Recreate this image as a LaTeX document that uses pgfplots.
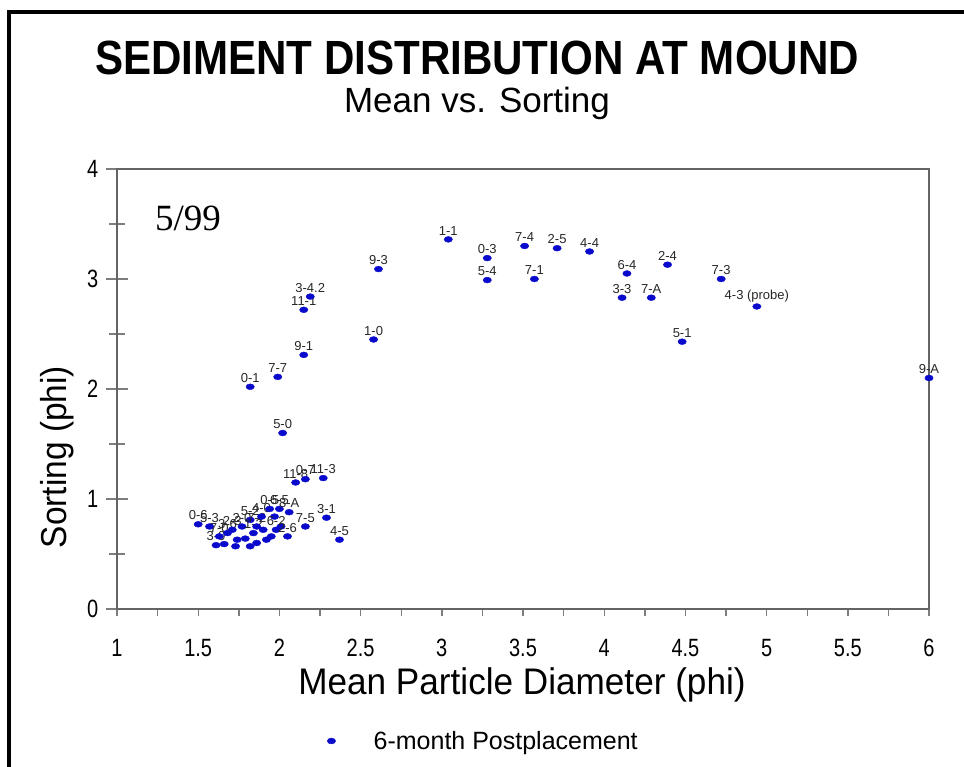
\documentclass[border=0pt]{standalone}
\usepackage{fontspec}
\setmainfont{Liberation Sans}
\newfontfamily\seriffont{Liberation Serif}
\usepackage{pgfplots}
\usepackage{pgfplotstable}
\pgfplotsset{compat=1.18}

\definecolor{ptblue}{RGB}{10,10,205}
\definecolor{axgray}{RGB}{125,125,125}

% Mean grain size (phi) vs. sorting (phi), 6-month postplacement samples
\pgfplotstableread{
x    y    label
1.50 0.77 0-6
1.57 0.75 5-3
1.61 0.58 3-0
1.63 0.66 7-0
1.66 0.59 {}
1.68 0.69 3-6
1.71 0.72 2-3
1.73 0.57 {}
1.74 0.63 {}
1.77 0.75 2-0
1.79 0.64 {}
1.82 0.57 {}
1.82 0.81 5-2
1.84 0.69 1-2
1.86 0.60 {}
1.86 0.75 7-2
1.89 0.84 4-0
1.90 0.72 {}
1.92 0.63 {}
1.94 0.91 0-5
1.95 0.66 {}
1.97 0.84 {}
1.98 0.72 6-2
2.00 0.91 6-5
2.01 0.75 {}
2.05 0.66 2-6
2.06 0.88 8-A
2.10 1.15 11-8
2.16 1.18 0-7
2.27 1.19 11-3
2.16 0.75 7-5
2.29 0.83 3-1
2.37 0.63 4-5
2.02 1.60 5-0
1.82 2.02 0-1
1.99 2.11 7-7
2.15 2.31 9-1
2.15 2.72 11-1
2.19 2.84 3-4.2
2.58 2.45 1-0
2.61 3.09 9-3
3.04 3.36 1-1
3.28 3.19 0-3
3.28 2.99 5-4
3.51 3.30 7-4
3.57 3.00 7-1
3.71 3.28 2-5
3.91 3.25 4-4
4.11 2.83 3-3
4.14 3.05 6-4
4.29 2.83 7-A
4.39 3.13 2-4
4.48 2.43 5-1
4.72 3.00 7-3
4.94 2.75 {4-3 (probe)}
6.00 2.10 9-A
}\sediment

\begin{document}
\begin{tikzpicture}[x=1pt,y=1pt]
\useasboundingbox (0,0) rectangle (964,767);
% page frame (left and top)
\draw[black, line width=4pt] (9,0) -- (9,755) -- (964,755);

\begin{axis}[
  at={(117pt,158pt)}, anchor=south west,
  scale only axis, width=812pt, height=440pt,
  xmin=1, xmax=6, ymin=0, ymax=4,
  clip=false,
  axis line style={axgray!80!black, line width=1.6pt},
  xtick={1,1.5,2,2.5,3,3.5,4,4.5,5,5.5,6},
  minor xtick={1.25,1.75,2.25,2.75,3.25,3.75,4.25,4.75,5.25,5.75},
  ytick={0,1,2,3,4},
  minor ytick={0.5,1.5,2.5,3.5},
  xtick pos=bottom, ytick pos=left,
  xtick align=outside, ytick align=center,
  xtick style={axgray, line width=1.4pt, /pgfplots/major tick length=7pt, /pgfplots/minor tick length=7pt},
  ytick style={axgray, line width=1.4pt, /pgfplots/major tick length=22pt, /pgfplots/minor tick length=15pt},
  /pgf/number format/assume math mode=true,
  tick label style={font=\fontsize{25}{25}\selectfont, text=black},
  xticklabel style={anchor=base, yshift=-43pt},
  yticklabel style={xshift=-13pt},
  xticklabel={\scalebox{0.8}[1]{\pgfmathprintnumber{\tick}}},
  yticklabel={\scalebox{0.8}[1]{\pgfmathprintnumber{\tick}}},
  legend style={draw=none, fill=none, at={(0.255,-0.30)}, anchor=west,
    font=\fontsize{25}{25}\selectfont},
  legend image code/.code={%
    \path (-4pt,-3pt) (40pt,3pt);
    \draw[mark repeat=2,mark phase=2] plot coordinates {(-2pt,0pt) (0pt,0pt) (2pt,0pt)};},
]
\addplot[
  only marks, mark=*, mark size=3.1pt,
  mark options={xscale=1.35, yscale=0.95, fill=ptblue, draw=ptblue},
  point meta=explicit symbolic,
  nodes near coords,
  nodes near coords style={font=\fontsize{13}{13}\selectfont, text=black!85,
    anchor=south, inner sep=0pt, yshift=4pt},
] table[x=x, y=y, meta=label] {\sediment};
\addlegendentry{6-month Postplacement}
\end{axis}

% titles and axis captions
\node[anchor=base] at (477,692) {\scalebox{0.877}[1]{\fontsize{48}{48}\selectfont\bfseries SEDIMENT DISTRIBUTION AT MOUND}};
\node[anchor=base] at (477,654) {\fontsize{35}{35}\selectfont Mean vs. Sorting};
\node[anchor=base west, inner sep=0pt] at (155,536) {\seriffont\fontsize{37}{37}\selectfont 5/99};
\node[anchor=base] at (522,72) {\scalebox{0.95}[1]{\fontsize{37}{37}\selectfont Mean Particle Diameter (phi)}};
\node[anchor=base, rotate=90] at (66,310) {\scalebox{0.93}[1]{\fontsize{36}{36}\selectfont Sorting (phi)}};
\end{tikzpicture}
\end{document}
